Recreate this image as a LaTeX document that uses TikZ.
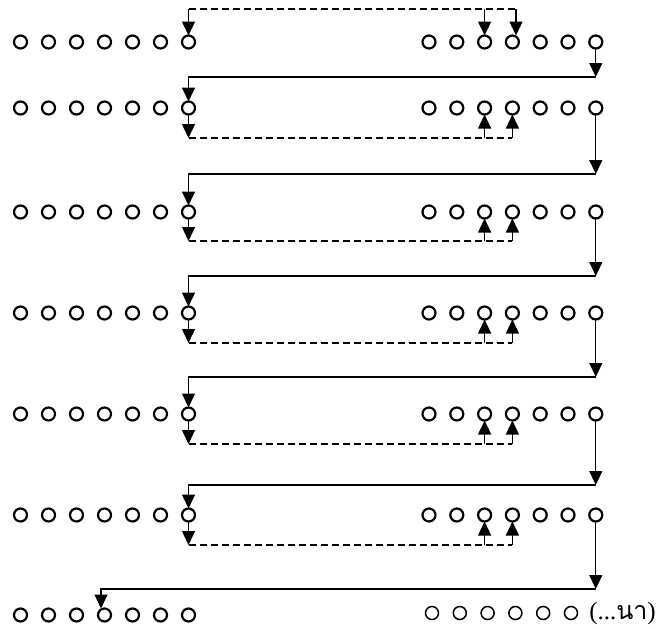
\documentclass[tikz,border=0pt]{standalone}
\usepackage{fontspec}
\newfontfamily\thaifont[Script=Thai]{Loma}
\newfontfamily\serifA{Liberation Serif}
\usetikzlibrary{arrows.meta,backgrounds}
\begin{document}
\begin{tikzpicture}[x=1pt,y=-1pt,
  dot/.style={circle,draw,line width=2.2pt,fill=white,minimum size=13pt,inner sep=0pt,outer sep=0pt},
  tdot/.style={circle,draw,line width=1.5pt,fill=white,minimum size=13pt,inner sep=0pt,outer sep=0pt},
  sol/.style={line width=1.3pt},
  dsh/.style={line width=1.3pt,dash pattern=on 7pt off 4pt},
  tip/.style={-{Triangle[length=14pt,width=13pt]}}]
\useasboundingbox (0,0) rectangle (659,629);
% circles
\foreach \r/\y in {1/42,2/108,3/212,4/313,5/414,6/515,7/615}{
  \foreach \i in {0,...,6}{
    \node[dot] (L\r-\i) at ({20.5+28*\i},\y) {};
  }
}
\foreach \r/\y in {1/42,2/108,3/212,4/313,5/414,6/515}{
  \foreach \i in {0,...,6}{
    \node[dot] (R\r-\i) at ({429+27.8*\i},\y) {};
  }
}
\foreach \i in {0,...,5}{
  \node[tdot] (R7-\i) at ({432+27.8*\i},613) {};
}
\node[anchor=base east,inner sep=0pt] (txt) at (656,619)
  {\fontsize{25}{27}\selectfont\serifA(...\thaifont นา\serifA)};
% coordinates
\coordinate (tr) at (516,9);
\coordinate (s1) at (0,77);
\coordinate (s2) at (0,174);
\coordinate (s3) at (0,276);
\coordinate (s4) at (0,377);
\coordinate (s5) at (0,485);
\coordinate (s6) at (0,589);
\coordinate (d2) at (0,138);
\coordinate (d3) at (0,241);
\coordinate (d4) at (0,343);
\coordinate (d5) at (0,444);
\coordinate (d6) at (0,545);
\coordinate (b7) at (101,589);
\begin{scope}[on background layer]
  % top dashed
  \draw[dsh] (L1-6 |- tr) -- (tr);
  \draw[sol,tip] (L1-6 |- tr) -- (L1-6.north);
  \draw[sol,tip] (R1-2 |- tr) -- (R1-2.north);
  \draw[sol,tip] (tr) -- (tr |- R1-3.north);
  % solid links
  \foreach \r/\n in {1/2,2/3,3/4,4/5,5/6}{
    \draw[sol,tip] (R\r-6.south) -- (R\r-6 |- s\r);
    \draw[sol,tip] (R\r-6 |- s\r) -- (L\n-6 |- s\r) -- (L\n-6.north);
  }
  \draw[sol,tip] (R6-6.south) -- (R6-6 |- s6);
  \draw[sol,tip] (R6-6 |- s6) -- (b7) -- (b7 |- L7-3.north);
  % dashed returns
  \foreach \r in {2,3,4,5,6}{
    \draw[sol,tip] (L\r-6.south) -- (L\r-6 |- d\r);
    \draw[dsh] (L\r-6 |- d\r) -- (R\r-3 |- d\r);
    \draw[sol,tip] (R\r-2 |- d\r) -- (R\r-2.south);
    \draw[sol,tip] (R\r-3 |- d\r) -- (R\r-3.south);
  }
\end{scope}
\end{tikzpicture}
\end{document}
